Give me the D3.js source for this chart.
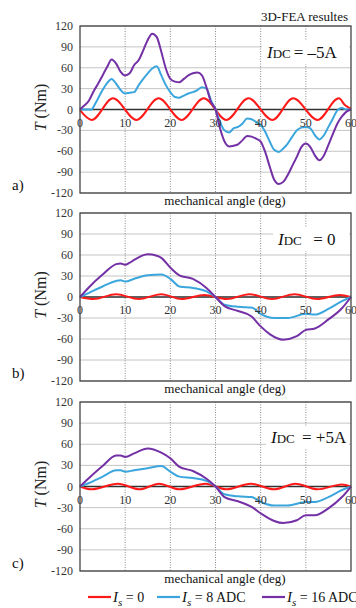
<!DOCTYPE html>
<html>
<head>
<meta charset="utf-8">
<script src="https://cdn.jsdelivr.net/npm/d3@7"></script>
<style>
  html, body { margin: 0; padding: 0; background: #fff; }
  svg { display: block; font-family: 'Liberation Serif', 'DejaVu Serif', serif; }
</style>
</head>
<body>
<svg id="chart" width="356" height="608"></svg>
<script>
// ---- data (angle in deg, torque in Nm) ----
const xTicks = [0, 10, 20, 30, 40, 50, 60];
const yTicks = [120, 90, 60, 30, 0, -30, -60, -90, -120];

// a) IDC = -5A
const aIs0 = [[0,-1],[2.6,-15],[7.3,16],[12.5,-15],[17.4,16],[22.5,-15],[27.4,16],[32.4,-15],[37.3,16],[42.6,-15],[47.2,16],[52.6,-15],[57.3,16],[58.7,6],[60,1]];
const aIs8 = [[0,0],[1,0],[2,0],[2.6,0],[3,4],[4,16],[5,28],[6,38],[7,44],[8,37],[9,28],[10,23],[11,24],[12,25],[13,35],[14,44],[15,52],[16,59],[17,62],[18,49],[19,35],[20,25],[21,18],[22,17],[23,20],[24,23],[25,25],[26,28],[27,32],[28,30],[29,13],[30,0],[31,-18],[32,-30],[33,-33],[34,-27],[35,-25],[36,-20],[37,-13],[38,-14],[39,-18],[40,-22],[41,-32],[42,-46],[43,-58],[44,-61],[45,-56],[46,-49],[47,-39],[48,-30],[49,-26],[50,-25],[51,-27],[52,-37],[53,-43],[54,-37],[55,-25],[56,-13],[57,-1],[58,2],[59,0],[60,0]];
const aIs16 = [[0,0],[1,6],[2,13],[3,26],[4,37],[5,49],[6,61],[7,72],[8,66],[9,54],[10,49],[11,52],[12,64],[13,71],[14,85],[15,100],[16,109],[17,104],[18,83],[19,59],[20,44],[21,40],[22,39],[23,44],[24,49],[25,52],[26,53],[27,49],[28,32],[29,11],[30,0],[31,-27],[32,-46],[33,-53],[34,-52],[35,-50],[36,-44],[37,-38],[38,-39],[39,-42],[40,-46],[41,-61],[42,-82],[43,-101],[44,-107],[45,-104],[46,-94],[47,-81],[48,-68],[49,-54],[50,-49],[51,-54],[52,-66],[53,-73],[54,-66],[55,-51],[56,-35],[57,-20],[58,-10],[59,-3],[60,0]];

// b) IDC = 0
const bIs0 = [[0,0],[3,-3],[8,4],[13,-3],[18,4],[22.5,-3],[27.5,3],[32.5,-3],[37.5,4],[42.5,-3],[47.5,4],[52.5,-3],[57.5,3],[60,0]];
const bIs8 = [[0,0],[2,6],[5,15],[8,23],[9,24],[10,22],[12,26],[15,31],[18,32],[20,26],[22,15],[25,13],[28,8],[30,0],[32,-11],[35,-14],[38,-15],[40,-24],[43,-30],[46,-30],[50,-24],[52,-25],[55,-17],[58,-6],[60,0]];
const bIs16 = [[0,0],[2,14],[5,32],[8,47],[9,48],[10,46],[11,49],[12,53],[15,61],[17,59],[18,56],[20,42],[22,31],[25,26],[28,13],[30,0],[32,-13],[35,-20],[38,-28],[40,-42],[42,-53],[45,-61],[48,-56],[50,-47],[52,-45],[55,-32],[58,-16],[60,0]];

// c) IDC = +5A
const cIs0 = [[0,0],[2.5,-4],[8.4,4],[13.2,-4],[17.5,4],[22,-4],[27.8,4],[32.4,-4],[37.8,4],[43,-4],[47.7,4],[52.6,-4],[58,3],[60,0]];
const cIs8 = [[0,0],[2,5],[5,14],[8,23],[9,23],[10,21],[12,23],[15,26],[18,29],[20,21],[22,14],[25,12],[28,8],[30,0],[32,-11],[35,-14],[38,-15],[40,-22],[43,-27],[46,-27],[50,-22],[52,-22],[55,-15],[58,-5],[60,0]];
const cIs16 = [[0,0],[2,12],[5,29],[8,44],[9,44],[10,42],[12,47],[15,54],[18,48],[20,40],[22,28],[25,22],[28,11],[30,0],[32,-15],[35,-21],[38,-29],[40,-38],[43,-49],[45,-52],[48,-48],[50,-41],[52,-41],[55,-31],[58,-15],[60,0]];

const seriesNames = ['0', '8 ADC', '16 ADC'];
const seriesColors = ['#ff1a1a', '#3aa6dd', '#7431a6'];

const panels = [
  { tag: 'a)', idc: '= \u20135A', top: 26, bottom: 193, series: [aIs0, aIs8, aIs16], note: true },
  { tag: 'b)', idc: '  = 0', top: 213, bottom: 381, series: [bIs0, bIs8, bIs16] },
  { tag: 'c)', idc: ' = +5A', top: 402, bottom: 571, series: [cIs0, cIs8, cIs16] }
];

const svg = d3.select('#chart');
const x = d3.scaleLinear().domain([0, 60]).range([80, 351]);

panels.forEach(function (p) {
  const y = d3.scaleLinear().domain([-120, 120]).range([p.bottom, p.top]);
  const g = svg.append('g');

  // horizontal grid
  g.append('g').selectAll('line').data(yTicks).enter().append('line')
    .attr('x1', x(0)).attr('x2', x(60))
    .attr('y1', d => y(d)).attr('y2', d => y(d))
    .attr('stroke', '#c4c4c4').attr('stroke-width', 1);

  // vertical dotted grid
  g.append('g').selectAll('line').data(xTicks.slice(1, -1)).enter().append('line')
    .attr('x1', d => x(d)).attr('x2', d => x(d))
    .attr('y1', p.top).attr('y2', p.bottom)
    .attr('stroke', '#8a8a8a').attr('stroke-width', 1).attr('stroke-dasharray', '1,1.5');

  // zero line
  g.append('line')
    .attr('x1', x(0)).attr('x2', x(60)).attr('y1', y(0)).attr('y2', y(0))
    .attr('stroke', '#333').attr('stroke-width', 1.5);

  // IDC label with white box
  const lx = p.tag === 'a)' ? 267 : (p.tag === 'b)' ? 278 : 271);
  const ly = p.tag === 'a)' ? p.top + 32 : (p.tag === 'b)' ? p.top + 32 : p.top + 41);
  g.append('rect')
    .attr('x', lx - 5).attr('y', ly - 17).attr('width', 351 - lx + 3).attr('height', 23)
    .attr('fill', '#fff');
  const t = g.append('text').attr('x', lx).attr('y', ly).attr('fill', '#111')
    .attr('font-size', 17).style('white-space', 'pre');
  t.append('tspan').attr('font-style', 'italic').text('I');
  t.append('tspan').attr('font-size', 13).text('DC');
  t.append('tspan').attr('dx', 3).text(p.idc);

  // series
  const line = d3.line().x(d => x(d[0])).y(d => y(d[1])).curve(d3.curveMonotoneX);
  g.append('g').selectAll('path').data(p.series).enter().append('path')
    .attr('d', line)
    .attr('fill', 'none')
    .attr('stroke', (d, i) => seriesColors[i])
    .attr('stroke-width', 2)
    .attr('stroke-linejoin', 'round');

  // frame
  g.append('rect')
    .attr('x', x(0)).attr('y', p.top)
    .attr('width', x(60) - x(0)).attr('height', p.bottom - p.top)
    .attr('fill', 'none').attr('stroke', '#444').attr('stroke-width', 1.3);

  // y tick labels
  g.append('g').selectAll('text').data(yTicks).enter().append('text')
    .attr('x', 73).attr('y', d => y(d) + 4)
    .attr('text-anchor', 'end').attr('font-size', 12).attr('fill', '#333')
    .text(d => d);

  // x tick labels (inside, under zero line)
  g.append('g').selectAll('text').data(xTicks).enter().append('text')
    .attr('x', d => x(d)).attr('y', y(0) + 17)
    .attr('text-anchor', 'middle').attr('font-size', 12).attr('fill', '#333')
    .text(d => d);

  // axis titles
  const yt = g.append('text')
    .attr('transform', 'translate(46,' + (y(0) - 2) + ') rotate(-90)')
    .attr('text-anchor', 'middle').attr('font-size', 16).attr('fill', '#222');
  yt.append('tspan').attr('font-style', 'italic').text('T');
  yt.append('tspan').text(' (Nm)');

  g.append('text')
    .attr('x', 225).attr('y', p.bottom + 11.5)
    .attr('text-anchor', 'middle').attr('font-size', 13).attr('fill', '#111')
    .text('mechanical angle (deg)');

  g.append('text')
    .attr('x', 12).attr('y', p.bottom - 3)
    .attr('font-size', 15).attr('fill', '#111')
    .text(p.tag);

  if (p.note) {
    g.append('text')
      .attr('x', 348).attr('y', 20.5)
      .attr('text-anchor', 'end').attr('font-size', 13).attr('fill', '#111')
      .text('3D-FEA resultes');
  }
});

// ---- legend ----
const legendX = [88, 157, 262];
const legend = svg.append('g').selectAll('g').data(seriesNames).enter().append('g')
  .attr('transform', (d, i) => 'translate(' + legendX[i] + ',597)');
legend.append('line')
  .attr('x1', 0).attr('x2', 23).attr('y1', 0).attr('y2', 0)
  .attr('stroke', (d, i) => seriesColors[i]).attr('stroke-width', 2.2);
const lt = legend.append('text').attr('x', 25).attr('y', 5).attr('fill', '#111').attr('font-size', 14);
lt.append('tspan').attr('font-style', 'italic').attr('font-size', 15).text('I');
lt.append('tspan').attr('font-style', 'italic').attr('font-size', 11).attr('dy', 4).text('s');
lt.append('tspan').attr('dy', -4).text(d => ' = ' + d);
</script>
</body>
</html>
